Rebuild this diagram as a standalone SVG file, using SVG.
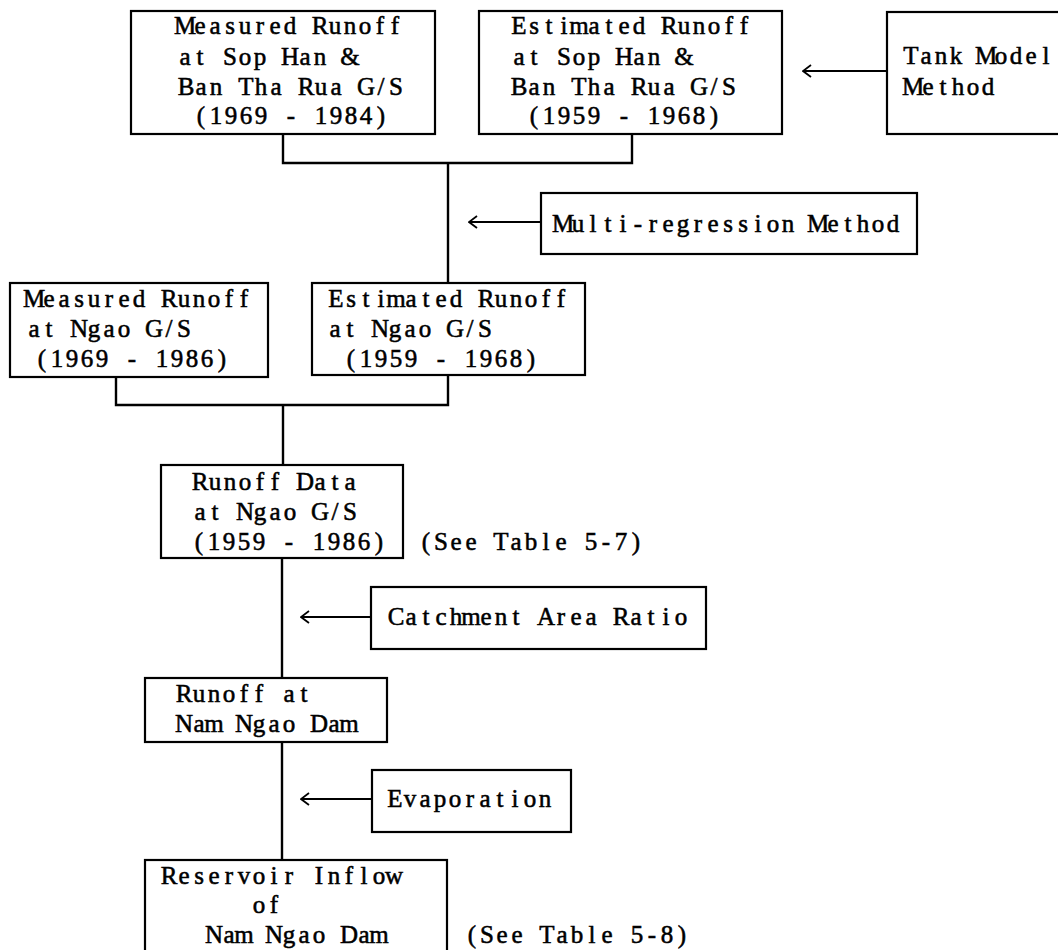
<svg xmlns="http://www.w3.org/2000/svg" width="1058" height="950" viewBox="0 0 1058 950">
<style>
.box{fill:#fff;stroke:#000;stroke-width:2.2}
.t{font-family:"Liberation Serif","Times New Roman",serif;font-size:25px;fill:#000;stroke:#000;stroke-width:0.55;text-anchor:middle}
.c{fill:none;stroke:#000;stroke-width:2.4}
.a{fill:none;stroke:#000;stroke-width:1.8}
</style>
<defs>
<marker id="chev" viewBox="0 0 10 14" refX="9" refY="7" markerWidth="10" markerHeight="14" markerUnits="userSpaceOnUse" orient="auto">
<path d="M1,1 L9,7 L1,13" fill="none" stroke="#000" stroke-width="1.8"/>
</marker>
</defs>
<rect width="1058" height="950" fill="#fff"/>
<g id="connectors">
<path class="c" d="M283,134 V163 H632 V134"/>
<path class="c" d="M448,163 V283"/>
<path class="c" d="M116,377 V405 H448 V375"/>
<path class="c" d="M283,405 V465"/>
<path class="c" d="M282,558 V678"/>
<path class="c" d="M282,742 V860"/>
<path class="a" d="M887,71 H803" marker-end="url(#chev)"/>
<path class="a" d="M541,222 H469" marker-end="url(#chev)"/>
<path class="a" d="M371,617 H301" marker-end="url(#chev)"/>
<path class="a" d="M372,799 H301" marker-end="url(#chev)"/>
</g>
<g id="n_measured_sop">
<rect class="box" x="131" y="11" width="304" height="123"/>
<text class="t" x="185 200 215 230 245 260 275 290 305 320 335 350 365 380 395" y="34">Measured Runoff</text>
<text class="t" x="185 200 215 230 245 260 275 290 305 320 335 350" y="65">at Sop Han &amp;</text>
<text class="t" x="186 201 216 231 246 261 276 291 306 321 336 351 366 381 396" y="95">Ban Tha Rua G/S</text>
<text class="t" x="201 216 231 246 261 276 291 306 321 336 351 366 381" y="124">(1969 - 1984)</text>
</g>
<g id="n_estimated_sop">
<rect class="box" x="479" y="11" width="303" height="123"/>
<text class="t" x="519 534 549 564 579 594 609 624 639 654 669 684 699 714 729 744" y="34">Estimated Runoff</text>
<text class="t" x="519 534 549 564 579 594 609 624 639 654 669 684" y="65">at Sop Han &amp;</text>
<text class="t" x="519 534 549 564 579 594 609 624 639 654 669 684 699 714 729" y="95">Ban Tha Rua G/S</text>
<text class="t" x="534 549 564 579 594 609 624 639 654 669 684 699 714" y="124">(1959 - 1968)</text>
</g>
<g id="n_tank">
<rect class="box" x="887" y="12" width="190" height="122"/>
<text class="t" x="911 926 941 956 971 986 1001 1016 1031 1046" y="64">Tank Model</text>
<text class="t" x="913 928 943 958 973 988" y="95">Method</text>
</g>
<g id="n_multi">
<rect class="box" x="541" y="193" width="376" height="61"/>
<text class="t" x="563 578 593 608 623 638 653 668 683 698 713 728 743 758 773 788 803 818 833 848 863 878 893" y="232">Multi-regression Method</text>
</g>
<g id="n_measured_ngao">
<rect class="box" x="10" y="283" width="258" height="94"/>
<text class="t" x="34 49 64 79 94 109 124 139 154 169 184 199 214 229 244" y="307">Measured Runoff</text>
<text class="t" x="34 49 64 79 94 109 124 139 154 169 184" y="337">at Ngao G/S</text>
<text class="t" x="42 57 72 87 102 117 132 147 162 177 192 207 222" y="367">(1969 - 1986)</text>
</g>
<g id="n_estimated_ngao">
<rect class="box" x="312" y="283" width="273" height="92"/>
<text class="t" x="336 351 366 381 396 411 426 441 456 471 486 501 516 531 546 561" y="307">Estimated Runoff</text>
<text class="t" x="335 350 365 380 395 410 425 440 455 470 485" y="337">at Ngao G/S</text>
<text class="t" x="351 366 381 396 411 426 441 456 471 486 501 516 531" y="367">(1959 - 1968)</text>
</g>
<g id="n_runoff_data">
<rect class="box" x="161" y="465" width="242" height="93"/>
<text class="t" x="200 215 230 245 260 275 290 305 320 335 350" y="490">Runoff Data</text>
<text class="t" x="200 215 230 245 260 275 290 305 320 335 350" y="520">at Ngao G/S</text>
<text class="t" x="199 214 229 244 259 274 289 304 319 334 349 364 379" y="550">(1959 - 1986)</text>
<text class="t" x="426 441 456 471 486 501 516 531 546 561 576 591 606 621 636" y="550">(See Table 5-7)</text>
</g>
<g id="n_catchment">
<rect class="box" x="371" y="587" width="335" height="62"/>
<text class="t" x="396 411 426 441 456 471 486 501 516 531 546 561 576 591 606 621 636 651 666 681" y="625">Catchment Area Ratio</text>
</g>
<g id="n_runoff_dam">
<rect class="box" x="145" y="678" width="242" height="64"/>
<text class="t" x="184 199 214 229 244 259 274 289 304" y="702">Runoff at</text>
<text class="t" x="184 199 214 229 244 259 274 289 304 319 334 349" y="732">Nam Ngao Dam</text>
</g>
<g id="n_evap">
<rect class="box" x="372" y="770" width="199" height="62"/>
<text class="t" x="395 410 425 440 455 470 485 500 515 530 545" y="807">Evaporation</text>
</g>
<g id="n_reservoir">
<rect class="box" x="145" y="860" width="302" height="110"/>
<text class="t" x="169 184 199 214 229 244 259 274 289 304 319 334 349 364 379 394" y="884">Reservoir Inflow</text>
<text class="t" x="259 274" y="913">of</text>
<text class="t" x="214 229 244 259 274 289 304 319 334 349 364 379" y="943">Nam Ngao Dam</text>
<text class="t" x="472 487 502 517 532 547 562 577 592 607 622 637 652 667 682" y="943">(See Table 5-8)</text>
</g>
</svg>
